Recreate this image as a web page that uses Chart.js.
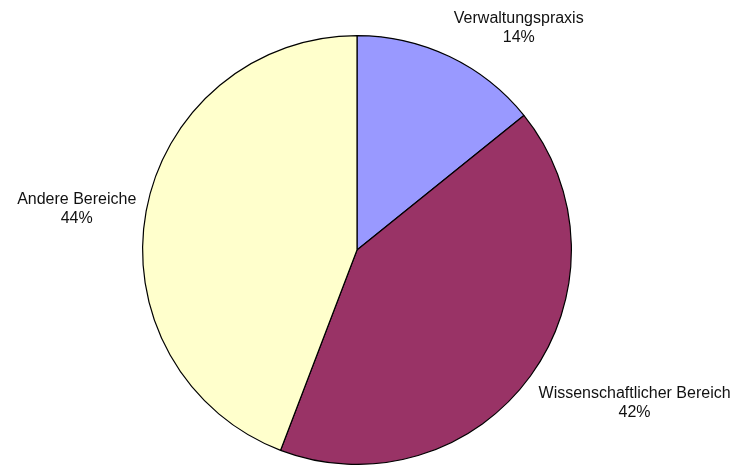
<!DOCTYPE html>
<html>
<head>
<meta charset="utf-8">
<script src="https://cdn.jsdelivr.net/npm/chart.js@4.4.0/dist/chart.umd.min.js"></script>
<style>
  html, body { margin: 0; padding: 0; background: #fff; }
  canvas { display: block; }
</style>
</head>
<body>
<canvas id="pie" width="741" height="465"></canvas>
<script>
const labels = ["Verwaltungspraxis", "Wissenschaftlicher Bereich", "Andere Bereiche"];
const values = [14.2, 41.6, 44.2];
const colors = ["#9999FF", "#993366", "#FFFFCC"];

// labels outside the slices, Excel style: name + percent
const outsideLabels = {
  id: "outsideLabels",
  afterDatasetsDraw(chart) {
    const ctx = chart.ctx;
    const meta = chart.getDatasetMeta(0);
    const total = values.reduce((a, b) => a + b, 0);
    const lh = 19, off = 10;
    ctx.save();
    ctx.font = "16px 'Liberation Sans', Arial, sans-serif";
    ctx.fillStyle = "#111";
    ctx.textBaseline = "middle";
    ctx.textAlign = "center";
    meta.data.forEach((arc, i) => {
      const p = arc.getProps(["x", "y", "startAngle", "endAngle", "outerRadius"], true);
      const mid = (p.startAngle + p.endAngle) / 2;
      const ax = p.x + Math.cos(mid) * (p.outerRadius + off);
      const ay = p.y + Math.sin(mid) * (p.outerRadius + off);
      const lines = [labels[i], Math.round(values[i] / total * 100) + "%"];
      const w = Math.max(...lines.map(t => ctx.measureText(t).width));
      const h = lines.length * lh;
      const c = Math.cos(mid), s = Math.sin(mid);
      let left = Math.abs(c) < 0.3 ? ax - w / 2 : (c > 0 ? ax : ax - w);
      let top = Math.abs(s) < 0.5 ? ay - h / 2 : (s > 0 ? ay + 2 : ay - h);
      lines.forEach((t, j) => ctx.fillText(t, left + w / 2, top + lh / 2 + j * lh));
    });
    ctx.restore();
  }
};

new Chart(document.getElementById("pie"), {
  type: "pie",
  data: {
    labels: labels,
    datasets: [{ data: values, backgroundColor: colors, borderColor: "#000", borderWidth: 1.2 }]
  },
  options: {
    responsive: false,
    animation: false,
    layout: { padding: { left: 142, right: 169, top: 35, bottom: 0 } },
    plugins: { legend: { display: false }, tooltip: { enabled: false } }
  },
  plugins: [outsideLabels]
});
</script>
</body>
</html>
